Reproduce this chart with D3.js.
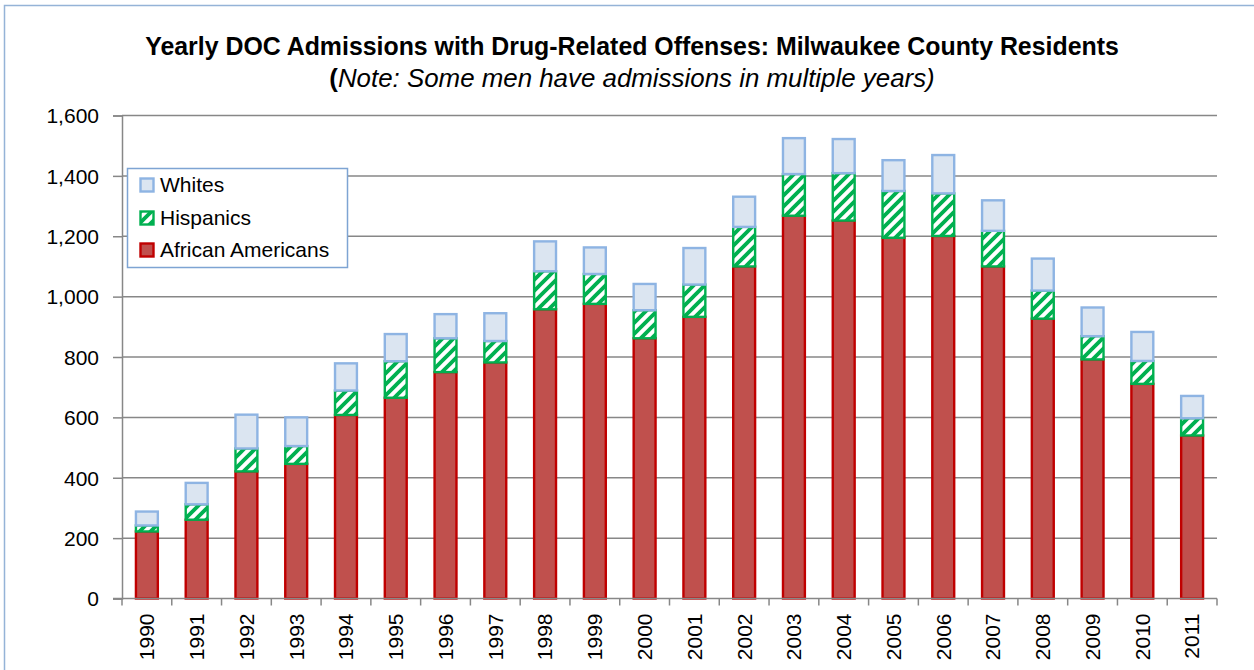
<!DOCTYPE html>
<html>
<head>
<meta charset="utf-8">
<script src="https://cdn.jsdelivr.net/npm/d3@7"></script>
<style>
  html, body { margin: 0; padding: 0; background: #fff; }
  svg { display: block; }
  text { font-family: "Liberation Sans", Arial, sans-serif; fill: #000; }
</style>
</head>
<body>
<svg id="chart" width="1254" height="670"></svg>
<script>
const years = ["1990","1991","1992","1993","1994","1995","1996","1997","1998","1999","2000","2001","2002","2003","2004","2005","2006","2007","2008","2009","2010","2011"];
const africanAmericans = [222, 261, 421, 446, 608, 665, 750, 782, 958, 976, 862, 933, 1100, 1268, 1252, 1195, 1201, 1100, 927, 792, 711, 540];
const hispanics = [20, 51, 76, 59, 81, 121, 112, 71, 126, 99, 93, 107, 131, 138, 157, 155, 141, 118, 93, 77, 76, 57];
const whites = [46, 71, 112, 95, 90, 90, 80, 92, 99, 88, 87, 121, 100, 119, 113, 102, 127, 101, 106, 95, 96, 74];
const yTicks = [0, 200, 400, 600, 800, 1000, 1200, 1400, 1600];
const seriesNames = ["African Americans", "Hispanics", "Whites"];
const legendOrder = ["Whites", "Hispanics", "African Americans"];
const titleText = "Yearly DOC Admissions with Drug-Related Offenses: Milwaukee County Residents";
const subtitleText = "Note: Some men have admissions in multiple years)";

const svg = d3.select("#chart");
const defs = svg.append("defs");
const P = 11;
const pat = defs.append("pattern").attr("id", "hatch")
  .attr("patternUnits", "userSpaceOnUse").attr("width", P).attr("height", P);
pat.append("rect").attr("width", P).attr("height", P).attr("fill", "#fff");
pat.append("path").attr("d", `M-3,3 L3,-3 M0,${P} L${P},0 M${P-3},${P+3} L${P+3},${P-3}`)
  .attr("stroke", "#00b050").attr("stroke-width", 3.8);

const styles = {
  "African Americans": { fill: "#c0504d", stroke: "#c00000" },
  "Hispanics": { fill: "url(#hatch)", stroke: "#00b050" },
  "Whites": { fill: "#dbe5f1", stroke: "#8eb4e3" }
};

// outer chart border
svg.append("rect").attr("x", 4.5).attr("y", 5.5).attr("width", 1270).attr("height", 700)
  .attr("fill", "none").attr("stroke", "#95b3d7").attr("stroke-width", 1.5);

const x0 = 122, x1 = 1217, yTop = 115.5, yBot = 598.5;
const x = d3.scaleBand().domain(years).range([x0, x1]).paddingInner(0.56).paddingOuter(0.28);
const y = d3.scaleLinear().domain([0, 1600]).range([yBot, yTop]);

// gridlines
svg.append("g").selectAll("line").data(yTicks.filter(d => d > 0)).join("line")
  .attr("x1", x0).attr("x2", x1).attr("y1", d => y(d)).attr("y2", d => y(d))
  .attr("stroke", "#878787").attr("stroke-width", 1.5);

// y axis
const yAxis = svg.append("g").attr("transform", `translate(${x0},0)`)
  .call(d3.axisLeft(y).tickValues(yTicks).tickSize(9).tickPadding(14).tickFormat(d3.format(",")));
yAxis.select(".domain").attr("stroke", "#878787").attr("stroke-width", 1.5);
yAxis.selectAll(".tick line").attr("stroke", "#878787").attr("stroke-width", 1.5);
yAxis.selectAll(".tick text").attr("font-size", 21).attr("font-family", "Liberation Sans, Arial, sans-serif").attr("fill", "#000").attr("dy", "0.35em");

// stacked bars
const rows = years.map((yr, i) => ({ year: yr, "African Americans": africanAmericans[i], "Hispanics": hispanics[i], "Whites": whites[i] }));
const stack = d3.stack().keys(seriesNames)(rows);
const bw = x.bandwidth();
svg.append("g").selectAll("g").data(stack).join("g")
  .attr("fill", d => styles[d.key].fill).attr("stroke", d => styles[d.key].stroke).attr("stroke-width", 2.4)
  .selectAll("rect").data(d => d).join("rect")
  .attr("x", d => x(d.data.year)).attr("width", bw)
  .attr("y", d => y(d[1])).attr("height", d => y(d[0]) - y(d[1]));

// x axis
const xAxisG = svg.append("g").attr("transform", `translate(0,${yBot})`);
xAxisG.append("line").attr("x1", x0 - 9).attr("x2", x1).attr("y1", 0).attr("y2", 0)
  .attr("stroke", "#878787").attr("stroke-width", 1.5);
const boundaries = d3.range(years.length + 1).map(i => x0 + (x1 - x0) * i / years.length);
xAxisG.selectAll("line.tk").data(boundaries).join("line").attr("class", "tk")
  .attr("x1", d => d).attr("x2", d => d).attr("y1", 0).attr("y2", 7)
  .attr("stroke", "#878787").attr("stroke-width", 1.5);
xAxisG.selectAll("text").data(years).join("text")
  .attr("transform", d => `translate(${x(d) + bw / 2},15) rotate(-90)`)
  .attr("text-anchor", "end").attr("dy", "0.35em").attr("font-size", 21).text(d => d);

// title
const title = svg.append("text").attr("x", 632).attr("y", 55).attr("text-anchor", "middle")
  .attr("font-weight", "bold").attr("font-size", 24).text(titleText);
let tw = title.node().getComputedTextLength();
title.attr("font-size", 24 * 974 / tw);

const sub = svg.append("text").attr("x", 632).attr("y", 87).attr("text-anchor", "middle").attr("font-size", 22);
sub.append("tspan").attr("font-weight", "bold").text("(");
sub.append("tspan").attr("font-style", "italic").text(subtitleText);
let sw = sub.node().getComputedTextLength();
sub.attr("font-size", 22 * 606 / sw);

// legend
const lg = svg.append("g");
lg.append("rect").attr("x", 127.5).attr("y", 168.5).attr("width", 220).attr("height", 99)
  .attr("fill", "#fff").attr("stroke", "#7ea4d3").attr("stroke-width", 1.5);
const ly = [185, 218, 250];
legendOrder.forEach((name, i) => {
  lg.append("rect").attr("x", 140.5).attr("y", ly[i] - 6.5).attr("width", 13).attr("height", 13)
    .attr("fill", styles[name].fill).attr("stroke", styles[name].stroke).attr("stroke-width", 2.4);
  lg.append("text").attr("x", 160).attr("y", ly[i]).attr("dy", "0.35em").attr("font-size", 21).text(name);
});
</script>
</body>
</html>
